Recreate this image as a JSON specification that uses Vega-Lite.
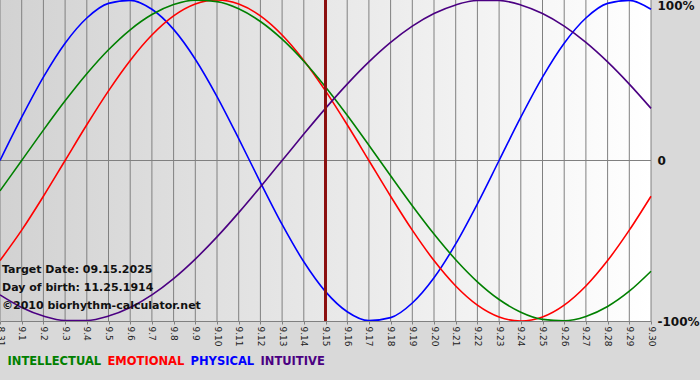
{
  "$schema": "https://vega.github.io/schema/vega-lite/v6.json",
  "width": 651,
  "height": 321,
  "autosize": "none",
  "padding": {"left": 0, "top": 0, "right": 49, "bottom": 59},
  "background": "#d9d9d9",
  "config": {"view": {"stroke": null}, "font": "DejaVu Sans"},
  "datasets": {
    "bio": [
      {"date":"8.31","series":"PHYSICAL","value":0},{"date":"9.1","series":"PHYSICAL","value":0.2698},{"date":"9.2","series":"PHYSICAL","value":0.5196},{"date":"9.3","series":"PHYSICAL","value":0.7308},{"date":"9.4","series":"PHYSICAL","value":0.8879},{"date":"9.5","series":"PHYSICAL","value":0.9791},{"date":"9.6","series":"PHYSICAL","value":0.9977},{"date":"9.7","series":"PHYSICAL","value":0.9423},{"date":"9.8","series":"PHYSICAL","value":0.817},{"date":"9.9","series":"PHYSICAL","value":0.6311},{"date":"9.10","series":"PHYSICAL","value":0.3984},{"date":"9.11","series":"PHYSICAL","value":0.1362},{"date":"9.12","series":"PHYSICAL","value":-0.1362},{"date":"9.13","series":"PHYSICAL","value":-0.3984},{"date":"9.14","series":"PHYSICAL","value":-0.6311},{"date":"9.15","series":"PHYSICAL","value":-0.817},{"date":"9.16","series":"PHYSICAL","value":-0.9423},{"date":"9.17","series":"PHYSICAL","value":-0.9977},{"date":"9.18","series":"PHYSICAL","value":-0.9791},{"date":"9.19","series":"PHYSICAL","value":-0.8879},{"date":"9.20","series":"PHYSICAL","value":-0.7308},{"date":"9.21","series":"PHYSICAL","value":-0.5196},{"date":"9.22","series":"PHYSICAL","value":-0.2698},{"date":"9.23","series":"PHYSICAL","value":0},{"date":"9.24","series":"PHYSICAL","value":0.2698},{"date":"9.25","series":"PHYSICAL","value":0.5196},{"date":"9.26","series":"PHYSICAL","value":0.7308},{"date":"9.27","series":"PHYSICAL","value":0.8879},{"date":"9.28","series":"PHYSICAL","value":0.9791},{"date":"9.29","series":"PHYSICAL","value":0.9977},{"date":"9.30","series":"PHYSICAL","value":0.9423},
      {"date":"8.31","series":"EMOTIONAL","value":-0.6235},{"date":"9.1","series":"EMOTIONAL","value":-0.4339},{"date":"9.2","series":"EMOTIONAL","value":-0.2225},{"date":"9.3","series":"EMOTIONAL","value":0},{"date":"9.4","series":"EMOTIONAL","value":0.2225},{"date":"9.5","series":"EMOTIONAL","value":0.4339},{"date":"9.6","series":"EMOTIONAL","value":0.6235},{"date":"9.7","series":"EMOTIONAL","value":0.7818},{"date":"9.8","series":"EMOTIONAL","value":0.901},{"date":"9.9","series":"EMOTIONAL","value":0.9749},{"date":"9.10","series":"EMOTIONAL","value":1},{"date":"9.11","series":"EMOTIONAL","value":0.9749},{"date":"9.12","series":"EMOTIONAL","value":0.901},{"date":"9.13","series":"EMOTIONAL","value":0.7818},{"date":"9.14","series":"EMOTIONAL","value":0.6235},{"date":"9.15","series":"EMOTIONAL","value":0.4339},{"date":"9.16","series":"EMOTIONAL","value":0.2225},{"date":"9.17","series":"EMOTIONAL","value":0},{"date":"9.18","series":"EMOTIONAL","value":-0.2225},{"date":"9.19","series":"EMOTIONAL","value":-0.4339},{"date":"9.20","series":"EMOTIONAL","value":-0.6235},{"date":"9.21","series":"EMOTIONAL","value":-0.7818},{"date":"9.22","series":"EMOTIONAL","value":-0.901},{"date":"9.23","series":"EMOTIONAL","value":-0.9749},{"date":"9.24","series":"EMOTIONAL","value":-1},{"date":"9.25","series":"EMOTIONAL","value":-0.9749},{"date":"9.26","series":"EMOTIONAL","value":-0.901},{"date":"9.27","series":"EMOTIONAL","value":-0.7818},{"date":"9.28","series":"EMOTIONAL","value":-0.6235},{"date":"9.29","series":"EMOTIONAL","value":-0.4339},{"date":"9.30","series":"EMOTIONAL","value":-0.2225},
      {"date":"8.31","series":"INTELLECTUAL","value":-0.1893},{"date":"9.1","series":"INTELLECTUAL","value":0},{"date":"9.2","series":"INTELLECTUAL","value":0.1893},{"date":"9.3","series":"INTELLECTUAL","value":0.3717},{"date":"9.4","series":"INTELLECTUAL","value":0.5406},{"date":"9.5","series":"INTELLECTUAL","value":0.6901},{"date":"9.6","series":"INTELLECTUAL","value":0.8146},{"date":"9.7","series":"INTELLECTUAL","value":0.9096},{"date":"9.8","series":"INTELLECTUAL","value":0.9718},{"date":"9.9","series":"INTELLECTUAL","value":0.9989},{"date":"9.10","series":"INTELLECTUAL","value":0.9898},{"date":"9.11","series":"INTELLECTUAL","value":0.945},{"date":"9.12","series":"INTELLECTUAL","value":0.866},{"date":"9.13","series":"INTELLECTUAL","value":0.7557},{"date":"9.14","series":"INTELLECTUAL","value":0.6182},{"date":"9.15","series":"INTELLECTUAL","value":0.4582},{"date":"9.16","series":"INTELLECTUAL","value":0.2817},{"date":"9.17","series":"INTELLECTUAL","value":0.0951},{"date":"9.18","series":"INTELLECTUAL","value":-0.0951},{"date":"9.19","series":"INTELLECTUAL","value":-0.2817},{"date":"9.20","series":"INTELLECTUAL","value":-0.4582},{"date":"9.21","series":"INTELLECTUAL","value":-0.6182},{"date":"9.22","series":"INTELLECTUAL","value":-0.7557},{"date":"9.23","series":"INTELLECTUAL","value":-0.866},{"date":"9.24","series":"INTELLECTUAL","value":-0.945},{"date":"9.25","series":"INTELLECTUAL","value":-0.9898},{"date":"9.26","series":"INTELLECTUAL","value":-0.9989},{"date":"9.27","series":"INTELLECTUAL","value":-0.9718},{"date":"9.28","series":"INTELLECTUAL","value":-0.9096},{"date":"9.29","series":"INTELLECTUAL","value":-0.8146},{"date":"9.30","series":"INTELLECTUAL","value":-0.6901},
      {"date":"8.31","series":"INTUITIVE","value":-0.8372},{"date":"9.1","series":"INTUITIVE","value":-0.9158},{"date":"9.2","series":"INTUITIVE","value":-0.9694},{"date":"9.3","series":"INTUITIVE","value":-0.9966},{"date":"9.4","series":"INTUITIVE","value":-0.9966},{"date":"9.5","series":"INTUITIVE","value":-0.9694},{"date":"9.6","series":"INTUITIVE","value":-0.9158},{"date":"9.7","series":"INTUITIVE","value":-0.8372},{"date":"9.8","series":"INTUITIVE","value":-0.7357},{"date":"9.9","series":"INTUITIVE","value":-0.6142},{"date":"9.10","series":"INTUITIVE","value":-0.4759},{"date":"9.11","series":"INTUITIVE","value":-0.3247},{"date":"9.12","series":"INTUITIVE","value":-0.1646},{"date":"9.13","series":"INTUITIVE","value":0},{"date":"9.14","series":"INTUITIVE","value":0.1646},{"date":"9.15","series":"INTUITIVE","value":0.3247},{"date":"9.16","series":"INTUITIVE","value":0.4759},{"date":"9.17","series":"INTUITIVE","value":0.6142},{"date":"9.18","series":"INTUITIVE","value":0.7357},{"date":"9.19","series":"INTUITIVE","value":0.8372},{"date":"9.20","series":"INTUITIVE","value":0.9158},{"date":"9.21","series":"INTUITIVE","value":0.9694},{"date":"9.22","series":"INTUITIVE","value":0.9966},{"date":"9.23","series":"INTUITIVE","value":0.9966},{"date":"9.24","series":"INTUITIVE","value":0.9694},{"date":"9.25","series":"INTUITIVE","value":0.9158},{"date":"9.26","series":"INTUITIVE","value":0.8372},{"date":"9.27","series":"INTUITIVE","value":0.7357},{"date":"9.28","series":"INTUITIVE","value":0.6142},{"date":"9.29","series":"INTUITIVE","value":0.4759},{"date":"9.30","series":"INTUITIVE","value":0.3247}
    ]
  },
  "data": {"name": "bio"},
  "layer": [
    {
      "mark": {"type": "rect", "color": {"gradient": "linear", "x1": 0, "y1": 0, "x2": 1, "y2": 0, "stops": [{"offset": 0, "color": "#d2d2d2"}, {"offset": 0.5, "color": "#e8e8e8"}, {"offset": 1, "color": "#ffffff"}]}},
      "transform": [{"filter": "datum.series == 'PHYSICAL' && datum.date == '8.31'"}],
      "encoding": {
        "x": {"datum": "8.31", "type": "ordinal", "scale": {"type": "point", "padding": 0, "domain": ["8.31","9.1","9.2","9.3","9.4","9.5","9.6","9.7","9.8","9.9","9.10","9.11","9.12","9.13","9.14","9.15","9.16","9.17","9.18","9.19","9.20","9.21","9.22","9.23","9.24","9.25","9.26","9.27","9.28","9.29","9.30"]},
          "axis": {"title": null, "labelAngle": 90, "labelFontSize": 9, "labelColor": "#222222", "labelPadding": 2, "tickSize": 3, "tickColor": "#808080", "domainColor": "#808080", "grid": false}},
        "x2": {"datum": "9.30"},
        "y": {"datum": 1, "type": "quantitative", "scale": {"domain": [-1, 1], "nice": false},
          "axis": {"orient": "right", "title": null, "values": [-1, 0, 1], "grid": false, "domain": false, "ticks": false, "labelPadding": 6, "labelFontSize": 12, "labelFontWeight": "bold", "labelColor": "#111111",
            "labelExpr": "datum.value == 1 ? '100%' : (datum.value == 0 ? '0' : '-100%')",
            "labelBaseline": {"expr": "datum.value == 1 ? 'top' : 'middle'"}}},
        "y2": {"datum": -1}
      }
    },
    {
      "mark": {"type": "rule", "color": "#808080", "strokeWidth": 1},
      "transform": [{"filter": "datum.series == 'PHYSICAL'"}],
      "encoding": {"x": {"field": "date", "type": "ordinal"}}
    },
    {
      "mark": {"type": "rule", "color": "#808080", "strokeWidth": 1},
      "encoding": {"y": {"datum": 0, "type": "quantitative"}}
    },
    {
      "mark": {"type": "line", "strokeWidth": 1.6, "interpolate": "monotone"},
      "encoding": {
        "x": {"field": "date", "type": "ordinal", "sort": null},
        "y": {"field": "value", "type": "quantitative"},
        "color": {"field": "series", "type": "nominal",
          "scale": {"domain": ["INTELLECTUAL", "EMOTIONAL", "PHYSICAL", "INTUITIVE"], "range": ["#008000", "#ff0000", "#0000ff", "#4b0082"]},
          "legend": {"title": null, "orient": "none", "legendX": 2, "legendY": 356, "direction": "horizontal",
            "symbolOpacity": 0, "symbolSize": 0, "symbolStrokeWidth": 0, "labelOffset": -6, "columnPadding": 0,
            "labelFontSize": 11.5, "labelFontWeight": "bold",
            "labelColor": {"expr": "datum.value == 'INTELLECTUAL' ? '#008000' : datum.value == 'EMOTIONAL' ? '#ff0000' : datum.value == 'PHYSICAL' ? '#0000ff' : '#4b0082'"}}}
      }
    },
    {
      "mark": {"type": "rule", "color": "#8b1010", "strokeWidth": 2},
      "encoding": {"x": {"datum": "9.15", "type": "ordinal"}}
    },
    {
      "mark": {"type": "text", "align": "left", "baseline": "bottom", "dx": 2, "dy": -46, "lineHeight": 18, "fontSize": 11, "fontWeight": "bold", "color": "#111111",
        "text": ["Target Date: 09.15.2025", "Day of birth: 11.25.1914", "©2010 biorhythm-calculator.net"]},
      "transform": [{"filter": "datum.series == 'PHYSICAL' && datum.date == '8.31'"}],
      "encoding": {"x": {"datum": "8.31", "type": "ordinal"}, "y": {"datum": -1, "type": "quantitative"}}
    }
  ]
}
